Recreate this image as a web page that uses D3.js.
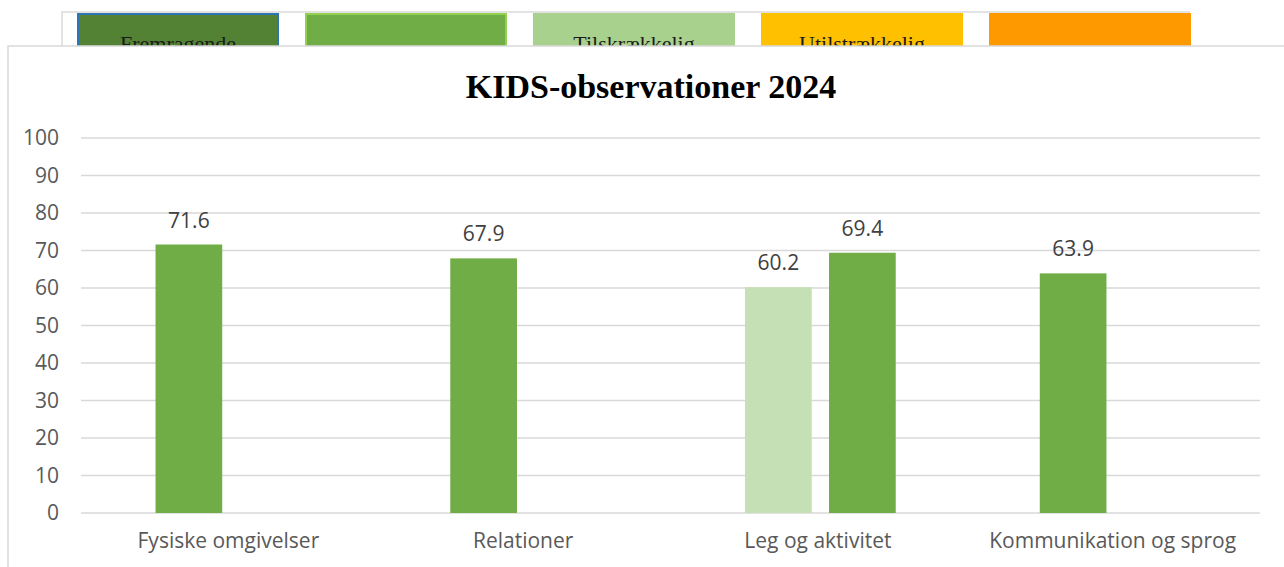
<!DOCTYPE html>
<html>
<head>
<meta charset="utf-8">
<script src="https://cdn.jsdelivr.net/npm/d3@7"></script>
<style>
  body { margin: 0; background: #fff; }
  svg { display: block; }
</style>
</head>
<body>
<svg width="1284" height="567"></svg>
<script>
var svg = d3.select("svg");
var width = +svg.attr("width");
var height = +svg.attr("height");

// data
var categories = ["Fysiske omgivelser", "Relationer", "Leg og aktivitet", "Kommunikation og sprog"];
var series = ["a", "b"];
var valuesA = [71.6, 67.9, 60.2, 63.9];
var levelsA = ["god", "god", "tilstr", "god"];
var valuesB = [null, null, 69.4, null];
var levelsB = [null, null, "god", null];
var yTicks = [0, 10, 20, 30, 40, 50, 60, 70, 80, 90, 100];
var scaleLabels = ["Fremragende", "", "Tilskrækkelig", "Utilstrækkelig", ""];
var scaleLevels = ["fremr", "godbox", "tilbox", "util", "bekym"];

var fill = d3.scaleOrdinal()
    .domain(["god", "tilstr", "fremr", "godbox", "tilbox", "util", "bekym"])
    .range(["#70ad47", "#c5e0b4", "#548235", "#70ad47", "#a9d18e", "#ffc000", "#ff9900"]);
var boxStroke = d3.scaleOrdinal()
    .domain(scaleLevels)
    .range(["#2e75b6", "#92d050", "#a9d18e", "#ffc000", "#ff9900"]);

// colour scale strip at the top (partly hidden behind the chart)
var strip = svg.append("g");
strip.append("rect")
    .attr("x", 62).attr("y", 12).attr("width", 1127).attr("height", 60)
    .style("fill", "#fff").style("stroke", "#e3e3e3").style("stroke-width", 2);

var boxX = d3.scaleBand().domain(d3.range(scaleLabels.length)).range([78, 1218]);
var boxes = strip.selectAll("g.box").data(scaleLabels).enter().append("g").attr("class", "box");
boxes.append("rect")
    .attr("x", function (d, i) { return boxX(i); })
    .attr("y", 14)
    .attr("width", 200)
    .attr("height", 50)
    .style("fill", function (d, i) { return fill(scaleLevels[i]); })
    .style("stroke", function (d, i) { return boxStroke(scaleLevels[i]); })
    .style("stroke-width", 2);
boxes.append("text")
    .attr("x", function (d, i) { return boxX(i) + 100; })
    .attr("y", 51)
    .attr("text-anchor", "middle")
    .style("font-family", "'Liberation Serif', serif")
    .style("font-size", "22px")
    .style("fill", "#1a1a1a")
    .text(function (d) { return d; });

// chart panel
svg.append("rect")
    .attr("x", 8).attr("y", 46).attr("width", 1290).attr("height", 540)
    .style("fill", "#fff").style("stroke", "#d9d9d9").style("stroke-width", 1.5);

svg.append("text")
    .attr("x", 651).attr("y", 98)
    .attr("text-anchor", "middle")
    .style("font-family", "'Liberation Serif', serif")
    .style("font-weight", "bold")
    .style("font-size", "34px")
    .style("fill", "#000")
    .text("KIDS-observationer 2024");

var x0 = d3.scaleBand().domain(categories).range([81, 1260]);
var x1 = d3.scaleBand().domain(series).range([-81.5, 86.5]).paddingInner(0.206).paddingOuter(0.103);
var y = d3.scaleLinear().domain([0, 100]).range([513, 138]);

// gridlines
svg.append("g").selectAll("line").data(yTicks).enter().append("line")
    .attr("x1", 81).attr("x2", 1260)
    .attr("y1", function (d) { return y(d); })
    .attr("y2", function (d) { return y(d); })
    .style("stroke", "#d9d9d9").style("stroke-width", 1.5);

// y axis labels
var yAxis = svg.append("g")
    .attr("transform", "translate(68,0)")
    .call(d3.axisLeft(y).tickValues(yTicks).tickSize(0).tickPadding(9));
yAxis.select(".domain").remove();
yAxis.selectAll("text")
    .style("font-family", "'Open Sans', sans-serif")
    .style("font-size", "21px")
    .style("fill", "#595959");

// x axis labels
var xAxis = svg.append("g")
    .attr("transform", "translate(0,513)")
    .call(d3.axisBottom(x0).tickSize(0).tickPadding(20));
xAxis.select(".domain").remove();
xAxis.selectAll("text")
    .style("font-family", "'Open Sans', sans-serif")
    .style("font-size", "21px")
    .style("fill", "#595959");

// bars
var bars = [];
categories.forEach(function (c, i) {
    if (valuesA[i] != null) bars.push({ cat: c, s: "a", v: valuesA[i], lvl: levelsA[i] });
    if (valuesB[i] != null) bars.push({ cat: c, s: "b", v: valuesB[i], lvl: levelsB[i] });
});

var barX = function (d) { return x0(d.cat) + x0.bandwidth() / 2 + x1(d.s); };

svg.append("g").selectAll("rect").data(bars).enter().append("rect")
    .attr("x", barX)
    .attr("y", function (d) { return y(d.v); })
    .attr("width", x1.bandwidth())
    .attr("height", function (d) { return y(0) - y(d.v); })
    .style("fill", function (d) { return fill(d.lvl); });

svg.append("g").selectAll("text").data(bars).enter().append("text")
    .attr("x", function (d) { return barX(d) + x1.bandwidth() / 2; })
    .attr("y", function (d) { return y(d.v) - 17; })
    .attr("text-anchor", "middle")
    .style("font-family", "'Open Sans', sans-serif")
    .style("font-size", "21px")
    .style("fill", "#404040")
    .text(function (d) { return d.v.toFixed(1); });
</script>
</body>
</html>
